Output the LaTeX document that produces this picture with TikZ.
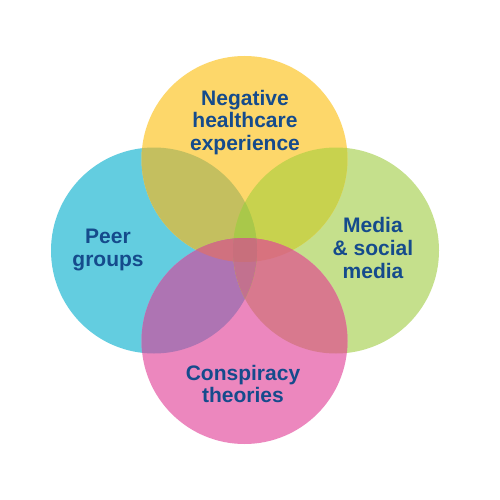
\documentclass[tikz,border=0pt]{standalone}
\usepackage{fontspec}
\setmainfont{Liberation Sans}
\definecolor{cY}{HTML}{FDD76A}
\definecolor{cC}{HTML}{63CDE0}
\definecolor{cG}{HTML}{C5E08C}
\definecolor{cP}{HTML}{EC87BE}
\definecolor{cYC}{HTML}{C4BF5F}
\definecolor{cYG}{HTML}{C8D24E}
\definecolor{cYP}{HTML}{D9737F}
\definecolor{cCP}{HTML}{AE74B3}
\definecolor{cGP}{HTML}{D8798E}
\definecolor{cCG}{HTML}{A9C84A}
\definecolor{cYCP}{HTML}{D0717F}
\definecolor{cYGP}{HTML}{D8727E}
\definecolor{cCGP}{HTML}{C2718F}
\definecolor{cAll}{HTML}{C86F7C}
\definecolor{txt}{HTML}{154B8C}
\begin{document}
\begin{tikzpicture}[x=1pt,y=-1pt,
  lbl/.style={text=txt,align=center,font=\fontsize{21}{22.8}\selectfont\bfseries,inner sep=0pt}]
\useasboundingbox[fill=white] (0,0) rectangle (500,500);
\def\CY{(244.5,159) circle (103)}
\def\CC{(154,250.5) circle (103)}
\def\CG{(336,250.5) circle (103)}
\def\CP{(244.5,341) circle (103)}
% singles
\fill[cC] \CC; \fill[cG] \CG; \fill[cY] \CY; \fill[cP] \CP;
% pairs
\begin{scope}\clip \CY; \fill[cYC] \CC; \end{scope}
\begin{scope}\clip \CY; \fill[cYG] \CG; \end{scope}
\begin{scope}\clip \CY; \fill[cYP] \CP; \end{scope}
\begin{scope}\clip \CC; \fill[cCP] \CP; \end{scope}
\begin{scope}\clip \CG; \fill[cGP] \CP; \end{scope}
\begin{scope}\clip \CC; \fill[cCG] \CG; \end{scope}
% triples
\begin{scope}\clip \CY; \clip \CC; \fill[cYCP] \CP; \end{scope}
\begin{scope}\clip \CY; \clip \CG; \fill[cYGP] \CP; \end{scope}
\begin{scope}\clip \CY; \clip \CC; \fill[cCG] \CG; \end{scope}
\begin{scope}\clip \CC; \clip \CG; \fill[cCGP] \CP; \end{scope}
% all four
\begin{scope}\clip \CY; \clip \CC; \clip \CG; \fill[cAll] \CP; \end{scope}
% labels
\node[lbl] (neg) at (245,122.5) {Negative\\healthcare\\experience};
\node[lbl] (peer) at (108,250) {Peer\\groups};
\node[lbl] (media) at (373,248) {Media\\\& social\\media};
\node[lbl] (consp) at (243,384) {Conspiracy\\theories};
\end{tikzpicture}
\end{document}
